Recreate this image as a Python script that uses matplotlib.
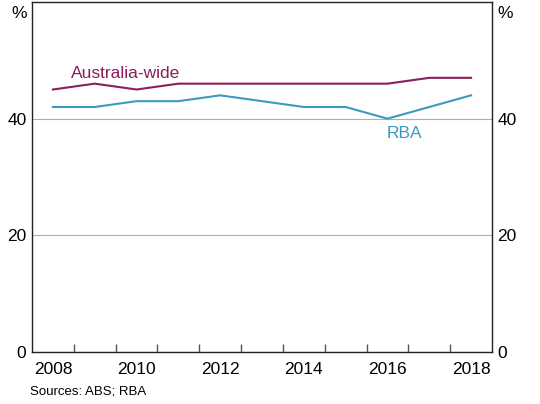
import matplotlib
matplotlib.use("Agg")
import matplotlib.pyplot as plt
import numpy as np

plt.rcParams['font.family'] = ['Liberation Sans', 'DejaVu Sans']

years = [2008.5, 2009.5, 2010.5, 2011.5, 2012.5, 2013.5, 2014.5, 2015.5, 2016.5, 2017.5, 2018.5]
australia_wide = [45, 46, 45, 46, 46, 46, 46, 46, 46, 47, 47]
rba = [42, 42, 43, 43, 44, 43, 42, 42, 40, 42, 44]
year_labels = ['2008', '2010', '2012', '2014', '2016', '2018']
y_ticks = [0, 20, 40]

aus_color = '#8A1F5A'
rba_color = '#3A9AC0'

fig = plt.figure(figsize=(5.4, 4.04), dpi=100)
ax = fig.add_axes([32/540, 1 - 352/404, 460/540, 350/404])

ax.plot(years, australia_wide, color=aus_color, lw=1.5)
ax.plot(years, rba, color=rba_color, lw=1.5)

ax.set_xlim(2008, 2019)
ax.set_ylim(0, 60)

ax.set_yticks(y_ticks)
ax.yaxis.grid(True, color='#b0b0b0', lw=0.8)
ax.set_axisbelow(True)
ax.tick_params(axis='y', length=0, labelsize=12.5, pad=4, left=True, right=True,
               labelleft=True, labelright=True)

ax.set_xticks(np.arange(2009, 2019))
ax.set_xticklabels([])
ax.tick_params(axis='x', which='major', direction='in', length=6, width=1, color='#555555')
ax.set_xticks([2008.5 + 2*i for i in range(len(year_labels))], minor=True)
ax.set_xticklabels(year_labels, minor=True)
ax.tick_params(axis='x', which='minor', length=0, labelsize=12.5, pad=7)

for s in ax.spines.values():
    s.set_linewidth(1.0)
    s.set_color('#222222')

ax.text(-0.012, 0.967, '%', transform=ax.transAxes, ha='right', va='center', fontsize=12.5)
ax.text(1.012, 0.967, '%', transform=ax.transAxes, ha='left', va='center', fontsize=12.5)

ax.text(2008.93, 47.8, 'Australia-wide', color=aus_color, fontsize=12.5, ha='left', va='center')
ax.text(2016.91, 37.5, 'RBA', color=rba_color, fontsize=12.5, ha='center', va='center')

fig.text(30/540, 1 - 391/404, 'Sources: ABS; RBA', fontsize=9.5, ha='left', va='center')

fig.savefig('out.png', dpi=100)
